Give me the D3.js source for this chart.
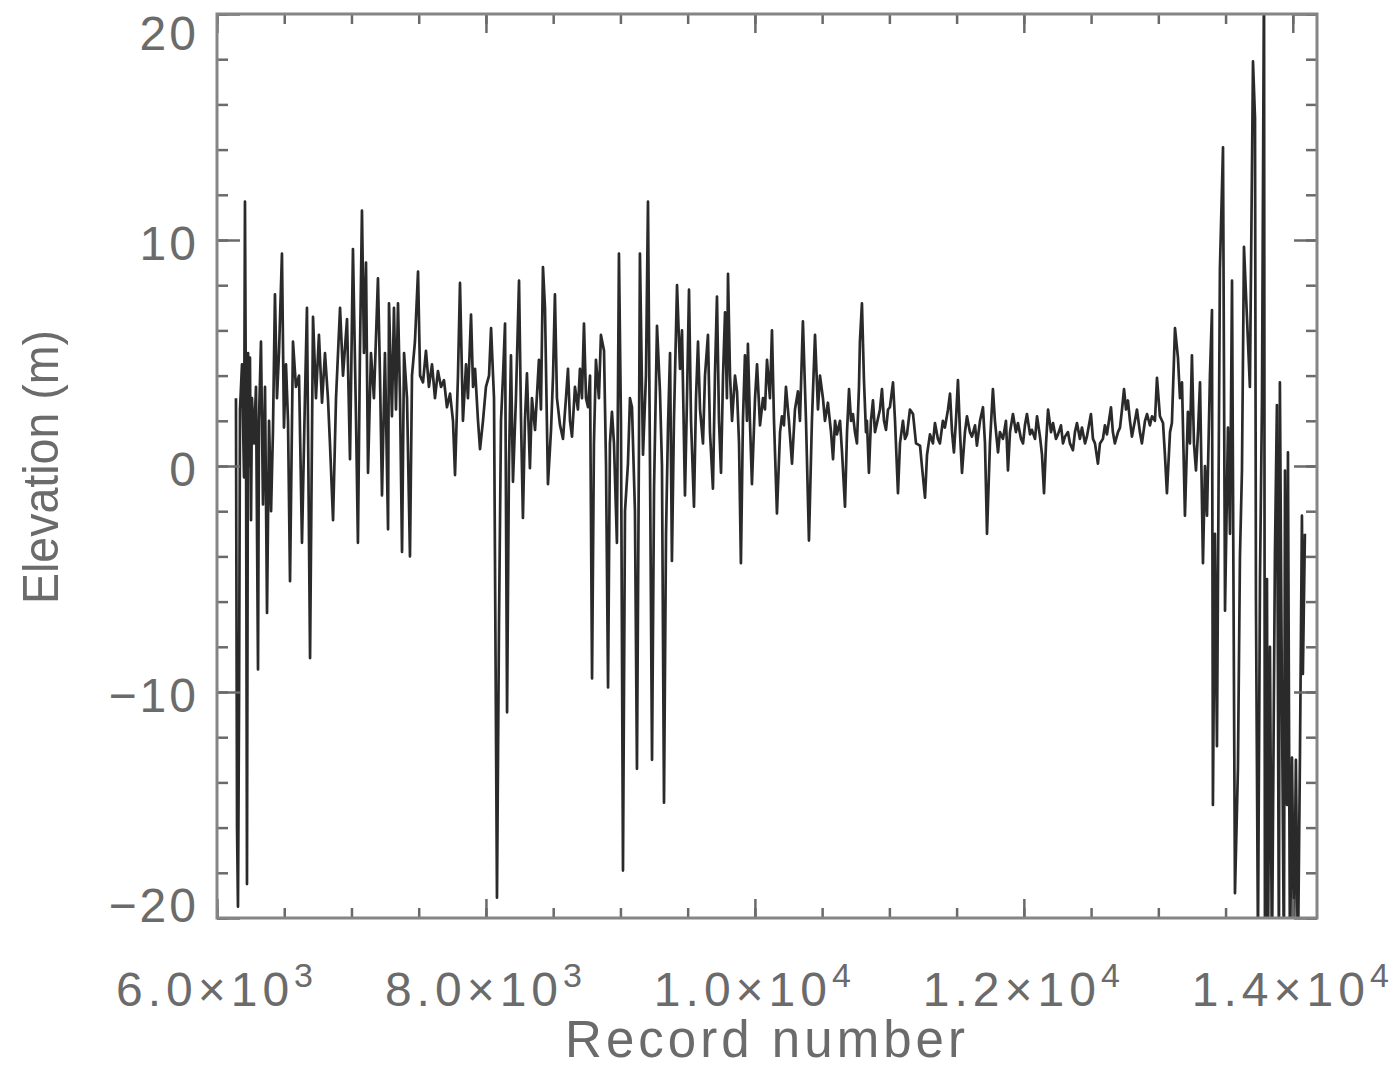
<!DOCTYPE html>
<html>
<head>
<meta charset="utf-8">
<script src="https://cdn.jsdelivr.net/npm/d3@7"></script>
<style>
  body { margin: 0; background: #fff; }
  text { font-family: "Liberation Sans", Arial, sans-serif; fill: #6b6b6b; }
</style>
</head>
<body>
<script>
// record numbers (x), segment by segment
const recordNumber = [
  6141,6149,6156,6164,6171,6186,6201,6208,6216,6223,6231,6238,6245,6253,6260,6275,6290,6305,6312,6327,6342,6357,6372,6387,6402,6416,6431,6446,6461,6483,6498,6513,6528,6543,6565,6587,6610,6632,6654,6669,6692,6714,6736,6758,6781,6803,6825,6840,6863,6885,6915,6937,6967,6989,7011,7034,7048,7063,7078,7093,7108,7123,7145,7167,7197,7212,7227,7249,7272,7279,7301,7316,7331,7346,7361,7376,7391,7413,7435,7450,7472,7495,7510,7532,
  7554,7576,7599,7621,7643,7666,7688,7710,7733,7755,7770,7792,7807,7829,7852,7866,7889,7904,7919,7941,7956,7978,8000,8023,8038,8060,8067,8082,8097,8112,8127,8142,8157,8171,8186,8201,8223,8246,8261,8275,8290,8305,8327,8342,8365,8394,8409,8424,8439,8461,8484,8499,8513,8528,8551,8573,8595,8610,8625,8640,8662,8684,8699,8714,8729,8744,8759,8774,8789,8803,8818,8840,8855,8878,8893,8908,8922,8937,8952,8974,8989,
  9004,9019,9034,9056,9071,9086,9108,9123,9138,9145,9168,9190,9205,9220,9235,9250,9272,9294,9309,9324,9339,9354,9369,9383,9398,9421,9443,9458,9480,9495,9510,9525,9547,9562,9577,9592,9614,9629,9651,9666,9688,9703,9718,9733,9748,9763,9778,9792,9800,9815,9830,9852,9867,9882,9896,9911,9926,9941,9948,9963,9978,10001,10016,10038,10060,10075,10090,10112,10127,10142,10164,10187,10201,10216,10231,10253,10276,10298,10320,10335,10357,10380,10402,10424,10447,
  10469,10484,10506,10521,10543,10566,10581,10596,10610,10633,10648,10670,10685,10700,10715,10729,10744,10759,10774,10781,10796,10811,10826,10833,10848,10863,10878,10893,10908,10930,10945,10960,10975,10990,11004,11027,11042,11064,11079,11101,11116,11131,11153,11176,11198,11228,11242,11265,11280,11302,11324,11339,11361,11376,11398,11413,11436,11451,11466,11480,11495,11510,11525,11540,11562,11577,11599,11614,11637,11651,11674,11696,11711,11726,11748,11770,11785,11808,11822,11845,11867,11882,
  11897,11919,11941,11956,11979,11994,12008,12023,12046,12060,12083,12098,12120,12135,12150,12165,12180,12202,12217,12239,12254,12276,12291,12306,12328,12343,12365,12380,12395,12417,12432,12455,12469,12484,12499,12514,12529,12551,12566,12588,12603,12618,12633,12648,12662,12677,12700,12715,12730,12745,12760,12774,12789,12804,12826,12841,12863,12878,12901,12916,12938,12953,12975,12990,13012,13035,13049,13064,13087,13101,13124,13146,13161,13176,13198,13220,13235,13250,13265,13280,13295,13310,13332,13347,13362,13384,13399,13406,13421,13436,13458,13481,13496,13518,13533,13548,13570,13592,13607,13622,13637,13659,13681,13704,13719,13726,13741,13756,13771,13786,13793,13808,13815,13830,13845,13867,13882,13897,13904,13919,13934,13942,13957,13964,13979,13994,14009,14023,14038,14053,14068,14075,14090
];

// elevation (m), same order
const elevation = [
  3.0,-16,-19.5,-10.5,2.5,4.5,-0.5,11.7,1,-18.5,5,0,4.8,-2.4,3,1,3.5,-9,2,5.5,-1.7,3.5,-6.5,2,-2.0,1.5,7.6,3,5,9.4,1.7,4.5,2,-5.1,5.5,3.5,4,-3.4,3,7.0,-8.5,6.6,3,5.8,2.8,5.0,3.0,1,-2.4,3,7.0,4,6.5,0.3,9.6,2,-3.4,5,11.3,5,9,-0.3,5,3,8.3,4,-1.3,5,-2.8,7.2,2.2,7.0,2.5,7.2,3,-3.8,5,3,-4.0,4,5.5,8.6,4,3.7,
  5.1,3.5,4.5,3.0,4.2,3.5,3.8,2.6,3.2,2.0,-0.4,4,8.1,2.0,4.5,3,6.7,3.5,4.3,2,0.75,2,3.5,4,6.1,3,-4,-19.1,-7,2,4,6.3,-10.9,0,4.9,-0.7,3,8.2,2,-2.3,2,4.1,-0.1,3,1.6,4.7,2.5,8.8,7,-0.8,1.6,4,7.6,3,1.8,1.2,3,4.3,2,1.3,3.5,2.5,4.3,3,6.3,3,2.6,4,-9.4,1,4.7,3,5.8,5.1,0,-9.8,1,2.4,1.0,-3.4,9.4,
  2,-17.9,-2,0.1,3,2.6,-2,-13.4,1,9.4,0.5,4,11.7,0,-13,-1,6.2,3.3,0,-14.9,-3,1.8,5,-4.2,2,8,4.3,6,-1.3,3,7.8,2,-1.8,3,5.5,2.5,1,4,5.8,1.5,-1,4,7.5,2,-0.3,4,6.8,3,8.5,4,2,4,3.3,1,-4.3,2,4.9,2,5.4,2,-0.8,3,4.5,1.8,3,2.5,4.7,3,6,2,-2.1,1.5,2.2,1.8,3.5,2,0.1,2.5,3.3,2,6.4,2,-3.3,2,5.8,
  2.5,4,3,2,2.8,1.5,0.3,2,1.4,2,0.6,-1.8,1.5,3.4,2,2.3,1.5,1,3.5,5.5,7.2,3.8,1.5,2,-0.3,2,2.9,1.5,1.9,2.5,3.4,2,1.6,2.5,2.6,3.7,2,-1.2,1,2,1.2,1.4,2.5,2.3,1.0,0.9,0,-1.4,0.5,1.4,1.0,1.9,1.2,1,2,1.7,2.5,3.2,1.5,0.6,2,3.8,1.5,-0.3,1.5,2.2,1.5,1.3,1.8,0.9,2,2.6,1,-3,1,3.4,2,0.6,1.5,1.2,2,-0.2,
  1.5,2.3,1.5,1.9,1.2,1,1.8,2.3,1.4,1.6,1.2,2.2,1.3,0.5,-1.2,1,2.5,1.5,1.9,1.2,1.4,1.8,1.0,1.3,1.5,1,0.7,1.5,1.9,1.2,1.7,1.0,1.3,1.8,2.3,1.2,1,0.1,1,1.2,1.8,1.4,2,2.6,1.5,1,1.5,1.7,2.5,3.4,2.5,2.9,2,1.3,2,2.5,1.5,1,2,2.3,1.8,2.2,2.0,3.9,2.2,1.9,0.5,-1.2,1.5,1.9,6.1,4.8,3,3.7,-2.2,2.4,1,4.9,1,-0.2,1.5,3.7,-4.3,0,-2.2,4,6.9,-15,-3,-12.4,8.7,14.1,-6.4,1.7,-3,8.2,-18.9,-13.4,-4,-0.2,9.7,6.6,3.5,17.9,15.4,-5.9,-21,-5,3,22,-22,-5,-22,-8,-22,-4,2.7,-22,3.7,-10,-22,-0.2,-15,0.6,-22,-12.9,-21,-13,-22,-13,-2.2,-9.2,-3
];

const xTicks = [6000, 8000, 10000, 12000, 14000];
const xTickMantissa = ["6.0", "8.0", "1.0", "1.2", "1.4"];
const xTickExponent = ["3", "3", "4", "4", "4"];
const yTicks = [-20, -10, 0, 10, 20];
const yTickLabels = ["\u221220", "\u221210", "0", "10", "20"];

const width = 1400, height = 1071;

const svg = d3.select("body").append("svg")
    .attr("width", width)
    .attr("height", height);

const x = d3.scaleLinear().domain([6000, 14180]).range([217, 1317]);
const y = d3.scaleLinear().domain([-20, 20]).range([918, 14]);

const [x0, x1] = x.range();
const [y0, y1] = y.range();

svg.append("clipPath").attr("id", "plotArea")
  .append("rect")
    .attr("x", x0).attr("y", y1)
    .attr("width", x1 - x0).attr("height", y0 - y1);

// the profile
const line = d3.line()
    .x((d, i) => x(recordNumber[i]))
    .y(d => y(d));

svg.append("path")
    .datum(elevation)
    .attr("clip-path", "url(#plotArea)")
    .attr("d", line)
    .attr("fill", "none")
    .attr("stroke", "#2a2a2a")
    .attr("stroke-width", 2.7)
    .attr("stroke-linejoin", "round");

// ticks on all four sides, pointing inward
const xMinor = d3.range(6000, 14180, 500);
const yMinor = d3.range(-20, 20.1, 2);

function styleTicks(g) {
  g.select(".domain").remove();
  g.selectAll(".tick line").attr("stroke", "#6a6a6a").attr("stroke-width", 2.5);
  g.selectAll(".tick text").remove();
}

svg.append("g").attr("transform", `translate(0,${y0})`)
  .call(d3.axisBottom(x).tickValues(xMinor).tickSize(-10)).call(styleTicks);
svg.append("g").attr("transform", `translate(0,${y0})`)
  .call(d3.axisBottom(x).tickValues(xTicks).tickSize(-19)).call(styleTicks);
svg.append("g").attr("transform", `translate(0,${y1})`)
  .call(d3.axisTop(x).tickValues(xMinor).tickSize(-10)).call(styleTicks);
svg.append("g").attr("transform", `translate(0,${y1})`)
  .call(d3.axisTop(x).tickValues(xTicks).tickSize(-19)).call(styleTicks);

svg.append("g").attr("transform", `translate(${x0},0)`)
  .call(d3.axisLeft(y).tickValues(yMinor).tickSize(-11)).call(styleTicks);
svg.append("g").attr("transform", `translate(${x0},0)`)
  .call(d3.axisLeft(y).tickValues(yTicks).tickSize(-23)).call(styleTicks);
svg.append("g").attr("transform", `translate(${x1},0)`)
  .call(d3.axisRight(y).tickValues(yMinor).tickSize(-11)).call(styleTicks);
svg.append("g").attr("transform", `translate(${x1},0)`)
  .call(d3.axisRight(y).tickValues(yTicks).tickSize(-23)).call(styleTicks);

// frame
svg.append("rect")
    .attr("x", x0).attr("y", y1)
    .attr("width", x1 - x0).attr("height", y0 - y1)
    .attr("fill", "none")
    .attr("stroke", "#858585")
    .attr("stroke-width", 3);

// x tick labels  (mantissa x 10^exp)
const xLab = svg.append("g")
  .selectAll("text")
  .data(xTicks)
  .join("text")
    .attr("x", d => x(d))
    .attr("y", 1006)
    .attr("text-anchor", "middle")
    .attr("font-size", 48)
    .attr("letter-spacing", 5);
xLab.append("tspan").text((d, i) => xTickMantissa[i] + "\u00d710");
xLab.append("tspan")
    .attr("dy", -19)
    .attr("font-size", 34)
    .text((d, i) => xTickExponent[i]);

// y tick labels, the end ones pulled inside like the original
svg.append("g")
  .selectAll("text")
  .data(yTicks)
  .join("text")
    .attr("x", 199)
    .attr("y", (d, i) => y(d) + (i === 0 ? 4 : i === yTicks.length - 1 ? 36 : 20))
    .attr("text-anchor", "end")
    .attr("font-size", 48)
    .attr("letter-spacing", 3)
    .text((d, i) => yTickLabels[i]);

// axis titles
svg.append("text")
    .attr("x", 765)
    .attr("y", 1057)
    .attr("text-anchor", "middle")
    .attr("font-size", 51)
    .attr("textLength", 400)
    .attr("lengthAdjust", "spacing")
    .text("Record number");

svg.append("text")
    .attr("transform", "translate(58,467) rotate(-90)")
    .attr("text-anchor", "middle")
    .attr("font-size", 50)
    .attr("textLength", 274)
    .attr("lengthAdjust", "spacingAndGlyphs")
    .text("Elevation (m)");
</script>
</body>
</html>
